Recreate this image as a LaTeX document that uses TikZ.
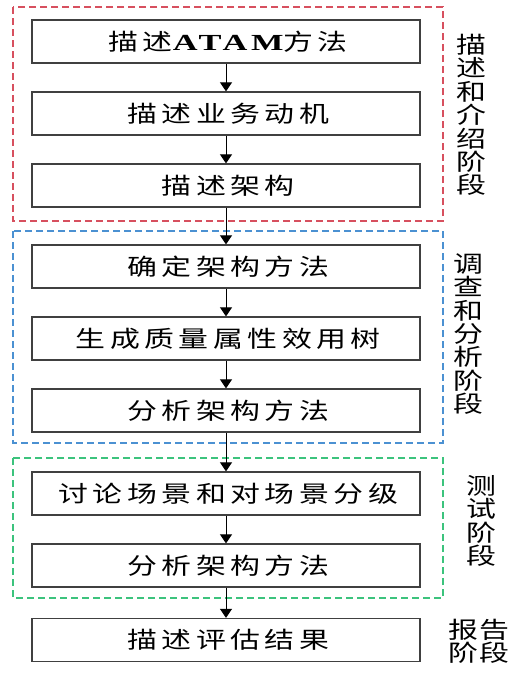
\documentclass[tikz,border=0pt]{standalone}
\usepackage{fontspec}
\usepackage{graphicx}
\newfontfamily\boxfont[LetterSpace=15]{Noto Sans CJK SC}
\newfontfamily\sidefont{Noto Sans CJK SC}
\newfontfamily\latinb[FakeStretch=1.15,LetterSpace=12]{Liberation Serif}
\usetikzlibrary{arrows.meta}
\newcommand\boxtxt[1]{\scalebox{1.3}[1]{\boxfont\fontsize{23}{25}\selectfont #1\hspace{-3.45pt}}}
\newcommand\wch[1]{\scalebox{1.3}[1]{#1}}
\begin{document}
\begin{tikzpicture}[x=1pt,y=-1pt,
 stepbox/.style={draw=black!75, line width=1.3pt, minimum width=388pt, minimum height=43pt, inner sep=0pt},
 frame/.style={dash pattern=on 7pt off 4pt, line width=1.2pt},
 arr/.style={-{Triangle[width=12pt,length=9pt]}, line width=0.9pt},
 side/.style={align=center, inner sep=0pt, font=\sidefont\fontsize{23}{23.4}\selectfont}]
\useasboundingbox (0,0) rectangle (527,675);
\fill[white] (0,0) rectangle (527,675);
% frames
\draw[frame, draw={rgb,255:red,215;green,80;blue,95}] (13,7) rectangle (443,221);
\draw[frame, draw={rgb,255:red,75;green,145;blue,210}] (13,231) rectangle (443,443);
\draw[frame, draw={rgb,255:red,60;green,195;blue,125}] (13,458) rectangle (443,598);
% boxes
\node[stepbox] (b1) at (226,41.5) {\boxtxt{描述{\latinb\bfseries ATAM}方法}};
\node[stepbox] (b2) at (226,113.5) {\boxtxt{描述业务动机}};
\node[stepbox] (b3) at (226,185.5) {\boxtxt{描述架构}};
\node[stepbox] (b4) at (226,266.5) {\boxtxt{确定架构方法}};
\node[stepbox] (b5) at (226,338.5) {\boxtxt{生成质量属性效用树}};
\node[stepbox] (b6) at (226,410.5) {\boxtxt{分析架构方法}};
\node[stepbox] (b7) at (226,493.5) {\boxtxt{讨论场景和对场景分级}};
\node[stepbox] (b8) at (226,565.5) {\boxtxt{分析架构方法}};
\node[stepbox] (b9) at (226,640) {\boxtxt{描述评估结果}};
% arrows
\draw[arr] (b1) -- (b2);
\draw[arr] (b2) -- (b3);
\draw[arr] (b3) -- (b4);
\draw[arr] (b4) -- (b5);
\draw[arr] (b5) -- (b6);
\draw[arr] (b6) -- (b7);
\draw[arr] (b7) -- (b8);
\draw[arr] (b8) -- (b9);
% side labels
\node[side] (s1) at (471,115) {\wch{描}\\\wch{述}\\\wch{和}\\\wch{介}\\\wch{绍}\\\wch{阶}\\\wch{段}};
\node[side] (s2) at (468,334) {\wch{调}\\\wch{查}\\\wch{和}\\\wch{分}\\\wch{析}\\\wch{阶}\\\wch{段}};
\node[side] (s3) at (481,521) {\wch{测}\\\wch{试}\\\wch{阶}\\\wch{段}};
\node[side] (s4) at (479,641) {\wch{报\hspace{1pt}告}\\\wch{阶\hspace{1pt}段}};
\end{tikzpicture}
\end{document}
